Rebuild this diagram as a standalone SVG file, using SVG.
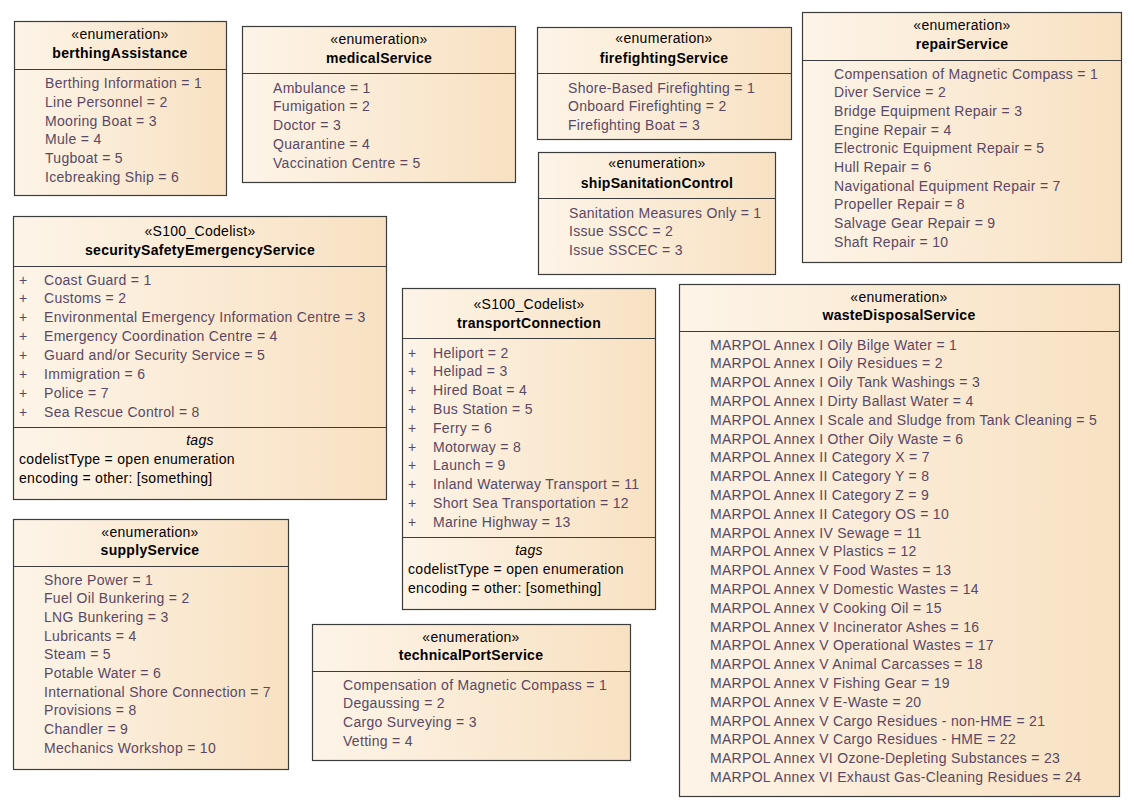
<svg xmlns="http://www.w3.org/2000/svg" width="1134" height="809" viewBox="0 0 1134 809">
<defs>
<linearGradient id="fill" x1="0" y1="0" x2="1" y2="0">
<stop offset="0" stop-color="#fdf4e8"/>
<stop offset="1" stop-color="#f8e1c2"/>
</linearGradient>
</defs>
<style>
.box{fill:url(#fill);stroke:#3c3c3c;stroke-width:1.2}
.div{stroke:#3c3c3c;stroke-width:1.2}
text{font-family:"Liberation Sans",Arial,sans-serif;font-size:14px;letter-spacing:0.3px}
.st{text-anchor:middle;fill:#000}
.nm{text-anchor:middle;font-weight:bold;fill:#000}
.it{fill:#5a4863}
.tg{text-anchor:middle;font-style:italic;fill:#000}
.tv{fill:#000}
</style>
<rect width="1134" height="809" fill="#fff"/>
<g id="connectors"/>

<g id="berthingAssistance">
<rect class="box" x="14.5" y="21.5" width="212" height="174"/>
<text class="st" x="120" y="39">«enumeration»</text>
<text class="nm" x="120" y="58">berthingAssistance</text>
<line class="div" x1="14.5" y1="69.5" x2="226.5" y2="69.5"/>
<text class="it" x="45" y="88">Berthing Information = 1</text>
<text class="it" x="45" y="106.8">Line Personnel = 2</text>
<text class="it" x="45" y="125.6">Mooring Boat = 3</text>
<text class="it" x="45" y="144.4">Mule = 4</text>
<text class="it" x="45" y="163.2">Tugboat = 5</text>
<text class="it" x="45" y="182">Icebreaking Ship = 6</text>
</g>

<g id="medicalService">
<rect class="box" x="242.5" y="26.5" width="273" height="156"/>
<text class="st" x="379" y="44">«enumeration»</text>
<text class="nm" x="379" y="63">medicalService</text>
<line class="div" x1="242.5" y1="73.5" x2="515.5" y2="73.5"/>
<text class="it" x="273" y="92.5">Ambulance = 1</text>
<text class="it" x="273" y="111.3">Fumigation = 2</text>
<text class="it" x="273" y="130.1">Doctor = 3</text>
<text class="it" x="273" y="148.9">Quarantine = 4</text>
<text class="it" x="273" y="167.7">Vaccination Centre = 5</text>
</g>

<g id="firefightingService">
<rect class="box" x="537.5" y="27.5" width="254" height="112"/>
<text class="st" x="664" y="43">«enumeration»</text>
<text class="nm" x="664" y="63">firefightingService</text>
<line class="div" x1="537.5" y1="73.5" x2="791.5" y2="73.5"/>
<text class="it" x="568" y="92.5">Shore-Based Firefighting = 1</text>
<text class="it" x="568" y="111.3">Onboard Firefighting = 2</text>
<text class="it" x="568" y="130.1">Firefighting Boat = 3</text>
</g>

<g id="shipSanitationControl">
<rect class="box" x="538.5" y="152.5" width="237" height="122"/>
<text class="st" x="657" y="168">«enumeration»</text>
<text class="nm" x="657" y="188">shipSanitationControl</text>
<line class="div" x1="538.5" y1="198.5" x2="775.5" y2="198.5"/>
<text class="it" x="569" y="217.5">Sanitation Measures Only = 1</text>
<text class="it" x="569" y="236.3">Issue SSCC = 2</text>
<text class="it" x="569" y="255.1">Issue SSCEC = 3</text>
</g>

<g id="repairService">
<rect class="box" x="802.5" y="12.5" width="319" height="250"/>
<text class="st" x="962" y="30">«enumeration»</text>
<text class="nm" x="962" y="49">repairService</text>
<line class="div" x1="802.5" y1="60.5" x2="1121.5" y2="60.5"/>
<text class="it" x="834" y="78.5">Compensation of Magnetic Compass = 1</text>
<text class="it" x="834" y="97.2">Diver Service = 2</text>
<text class="it" x="834" y="115.9">Bridge Equipment Repair = 3</text>
<text class="it" x="834" y="134.6">Engine Repair = 4</text>
<text class="it" x="834" y="153.3">Electronic Equipment Repair = 5</text>
<text class="it" x="834" y="172">Hull Repair = 6</text>
<text class="it" x="834" y="190.7">Navigational Equipment Repair = 7</text>
<text class="it" x="834" y="209.4">Propeller Repair = 8</text>
<text class="it" x="834" y="228.1">Salvage Gear Repair = 9</text>
<text class="it" x="834" y="246.8">Shaft Repair = 10</text>
</g>

<g id="securitySafetyEmergencyService">
<rect class="box" x="13.5" y="216.5" width="373" height="283"/>
<text class="st" x="200" y="236">«S100_Codelist»</text>
<text class="nm" x="200" y="255">securitySafetyEmergencyService</text>
<line class="div" x1="13.5" y1="266.5" x2="386.5" y2="266.5"/>
<text class="it" x="19" y="284.5">+</text><text class="it" x="44" y="284.5">Coast Guard = 1</text>
<text class="it" x="19" y="303.4">+</text><text class="it" x="44" y="303.4">Customs = 2</text>
<text class="it" x="19" y="322.2">+</text><text class="it" x="44" y="322.2">Environmental Emergency Information Centre = 3</text>
<text class="it" x="19" y="341.1">+</text><text class="it" x="44" y="341.1">Emergency Coordination Centre = 4</text>
<text class="it" x="19" y="359.9">+</text><text class="it" x="44" y="359.9">Guard and/or Security Service = 5</text>
<text class="it" x="19" y="378.8">+</text><text class="it" x="44" y="378.8">Immigration = 6</text>
<text class="it" x="19" y="397.6">+</text><text class="it" x="44" y="397.6">Police = 7</text>
<text class="it" x="19" y="416.5">+</text><text class="it" x="44" y="416.5">Sea Rescue Control = 8</text>
<line class="div" x1="13.5" y1="427.5" x2="386.5" y2="427.5"/>
<text class="tg" x="200" y="444.5">tags</text>
<text class="tv" x="19" y="463.5">codelistType = open enumeration</text>
<text class="tv" x="19" y="482.5">encoding = other: [something]</text>
</g>

<g id="transportConnection">
<rect class="box" x="402.5" y="288.5" width="253" height="321"/>
<text class="st" x="529" y="308.5">«S100_Codelist»</text>
<text class="nm" x="529" y="327.5">transportConnection</text>
<line class="div" x1="402.5" y1="338.5" x2="655.5" y2="338.5"/>
<text class="it" x="408" y="357.5">+</text><text class="it" x="433" y="357.5">Heliport = 2</text>
<text class="it" x="408" y="376.3">+</text><text class="it" x="433" y="376.3">Helipad = 3</text>
<text class="it" x="408" y="395.1">+</text><text class="it" x="433" y="395.1">Hired Boat = 4</text>
<text class="it" x="408" y="413.9">+</text><text class="it" x="433" y="413.9">Bus Station = 5</text>
<text class="it" x="408" y="432.7">+</text><text class="it" x="433" y="432.7">Ferry = 6</text>
<text class="it" x="408" y="451.5">+</text><text class="it" x="433" y="451.5">Motorway = 8</text>
<text class="it" x="408" y="470.3">+</text><text class="it" x="433" y="470.3">Launch = 9</text>
<text class="it" x="408" y="489.1">+</text><text class="it" x="433" y="489.1">Inland Waterway Transport = 11</text>
<text class="it" x="408" y="507.9">+</text><text class="it" x="433" y="507.9">Short Sea Transportation = 12</text>
<text class="it" x="408" y="526.7">+</text><text class="it" x="433" y="526.7">Marine Highway = 13</text>
<line class="div" x1="402.5" y1="537.5" x2="655.5" y2="537.5"/>
<text class="tg" x="529" y="554.5">tags</text>
<text class="tv" x="408" y="573.5">codelistType = open enumeration</text>
<text class="tv" x="408" y="592.5">encoding = other: [something]</text>
</g>

<g id="supplyService">
<rect class="box" x="13.5" y="519.5" width="275" height="250"/>
<text class="st" x="150" y="537">«enumeration»</text>
<text class="nm" x="150" y="555">supplyService</text>
<line class="div" x1="13.5" y1="566.5" x2="288.5" y2="566.5"/>
<text class="it" x="44" y="584.5">Shore Power = 1</text>
<text class="it" x="44" y="603.2">Fuel Oil Bunkering = 2</text>
<text class="it" x="44" y="621.9">LNG Bunkering = 3</text>
<text class="it" x="44" y="640.6">Lubricants = 4</text>
<text class="it" x="44" y="659.3">Steam = 5</text>
<text class="it" x="44" y="678">Potable Water = 6</text>
<text class="it" x="44" y="696.7">International Shore Connection = 7</text>
<text class="it" x="44" y="715.4">Provisions = 8</text>
<text class="it" x="44" y="734.1">Chandler = 9</text>
<text class="it" x="44" y="752.8">Mechanics Workshop = 10</text>
</g>

<g id="technicalPortService">
<rect class="box" x="312.5" y="624.5" width="318" height="136"/>
<text class="st" x="471" y="641.5">«enumeration»</text>
<text class="nm" x="471" y="659.5">technicalPortService</text>
<line class="div" x1="312.5" y1="671.5" x2="630.5" y2="671.5"/>
<text class="it" x="343" y="689.5">Compensation of Magnetic Compass = 1</text>
<text class="it" x="343" y="708.3">Degaussing = 2</text>
<text class="it" x="343" y="727.1">Cargo Surveying = 3</text>
<text class="it" x="343" y="745.9">Vetting = 4</text>
</g>

<g id="wasteDisposalService">
<rect class="box" x="679.5" y="284.5" width="440" height="512"/>
<text class="st" x="899" y="302">«enumeration»</text>
<text class="nm" x="899" y="320">wasteDisposalService</text>
<line class="div" x1="679.5" y1="331.5" x2="1119.5" y2="331.5"/>
<text class="it" x="710" y="349.5">MARPOL Annex I Oily Bilge Water = 1</text>
<text class="it" x="710" y="368.3">MARPOL Annex I Oily Residues = 2</text>
<text class="it" x="710" y="387.1">MARPOL Annex I Oily Tank Washings = 3</text>
<text class="it" x="710" y="405.9">MARPOL Annex I Dirty Ballast Water = 4</text>
<text class="it" x="710" y="424.7">MARPOL Annex I Scale and Sludge from Tank Cleaning = 5</text>
<text class="it" x="710" y="443.5">MARPOL Annex I Other Oily Waste = 6</text>
<text class="it" x="710" y="462.3">MARPOL Annex II Category X = 7</text>
<text class="it" x="710" y="481.1">MARPOL Annex II Category Y = 8</text>
<text class="it" x="710" y="499.9">MARPOL Annex II Category Z = 9</text>
<text class="it" x="710" y="518.7">MARPOL Annex II Category OS = 10</text>
<text class="it" x="710" y="537.5">MARPOL Annex IV Sewage = 11</text>
<text class="it" x="710" y="556.3">MARPOL Annex V Plastics = 12</text>
<text class="it" x="710" y="575.1">MARPOL Annex V Food Wastes = 13</text>
<text class="it" x="710" y="593.9">MARPOL Annex V Domestic Wastes = 14</text>
<text class="it" x="710" y="612.7">MARPOL Annex V Cooking Oil = 15</text>
<text class="it" x="710" y="631.5">MARPOL Annex V Incinerator Ashes = 16</text>
<text class="it" x="710" y="650.3">MARPOL Annex V Operational Wastes = 17</text>
<text class="it" x="710" y="669.1">MARPOL Annex V Animal Carcasses = 18</text>
<text class="it" x="710" y="687.9">MARPOL Annex V Fishing Gear = 19</text>
<text class="it" x="710" y="706.7">MARPOL Annex V E-Waste = 20</text>
<text class="it" x="710" y="725.5">MARPOL Annex V Cargo Residues - non-HME = 21</text>
<text class="it" x="710" y="744.3">MARPOL Annex V Cargo Residues - HME = 22</text>
<text class="it" x="710" y="763.1">MARPOL Annex VI Ozone-Depleting Substances = 23</text>
<text class="it" x="710" y="781.9">MARPOL Annex VI Exhaust Gas-Cleaning Residues = 24</text>
</g>
</svg>
